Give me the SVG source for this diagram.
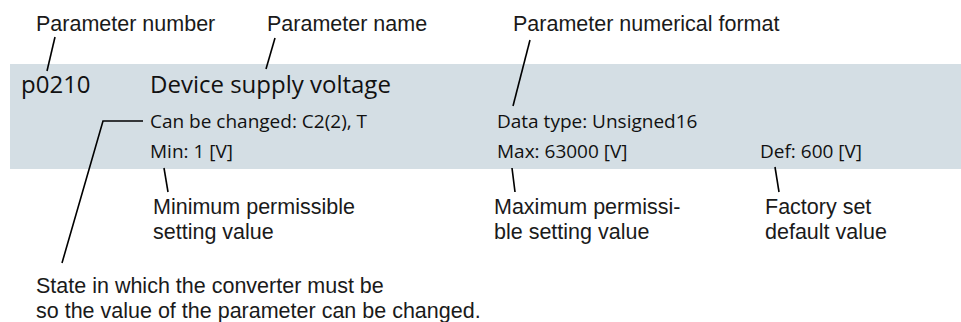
<svg xmlns="http://www.w3.org/2000/svg" width="961" height="322" viewBox="0 0 961 322">
<style>
.lbl{font-family:"Liberation Sans",Arial,sans-serif;font-size:21.5px;fill:#1a1a1a}
.ttl{font-family:"Open Sans","Noto Sans",sans-serif;font-size:24px;fill:#111}
.val{font-family:"Open Sans","Noto Sans",sans-serif;font-size:19px;fill:#111}
.ld{stroke:#000;stroke-width:1.6;fill:none}
</style>
<rect id="band" x="10" y="64" width="951" height="105" fill="#d4dee4"/>
<g id="param-number"><text class="lbl" x="36" y="31">Parameter number</text></g>
<g id="param-name"><text class="lbl" x="267" y="31">Parameter name</text></g>
<g id="param-format"><text class="lbl" x="513" y="31">Parameter numerical format</text></g>
<g id="p0210"><text class="ttl" x="21" y="93">p0210</text></g>
<g id="device"><text class="ttl" x="150" y="93">Device supply voltage</text></g>
<g id="changed"><text class="val" x="150" y="128">Can be changed: C2(2), T</text></g>
<g id="datatype"><text class="val" x="497" y="128">Data type: Unsigned16</text></g>
<g id="min"><text class="val" x="150" y="158">Min: 1 [V]</text></g>
<g id="max"><text class="val" x="497" y="158">Max: 63000 [V]</text></g>
<g id="def"><text class="val" x="760" y="158">Def: 600 [V]</text></g>
<g id="min-label"><text class="lbl" x="153" y="214">Minimum permissible</text><text class="lbl" x="153" y="239">setting value</text></g>
<g id="max-label"><text class="lbl" x="494" y="214">Maximum permissi-</text><text class="lbl" x="494" y="239">ble setting value</text></g>
<g id="def-label"><text class="lbl" x="765" y="214">Factory set</text><text class="lbl" x="765" y="239">default value</text></g>
<g id="state-label"><text class="lbl" x="36" y="293">State in which the converter must be</text><text class="lbl" x="36" y="318">so the value of the parameter can be changed.</text></g>
<g id="connectors">
<line class="ld" x1="55" y1="37" x2="47" y2="71"/>
<line class="ld" x1="275" y1="38" x2="266" y2="69"/>
<line class="ld" x1="530" y1="40" x2="513" y2="106"/>
<polyline class="ld" points="143,121 103,121 62,263"/>
<line class="ld" x1="164" y1="168" x2="168" y2="192"/>
<line class="ld" x1="512" y1="168" x2="515" y2="192"/>
<line class="ld" x1="775" y1="167" x2="779" y2="192"/>
</g>
</svg>
